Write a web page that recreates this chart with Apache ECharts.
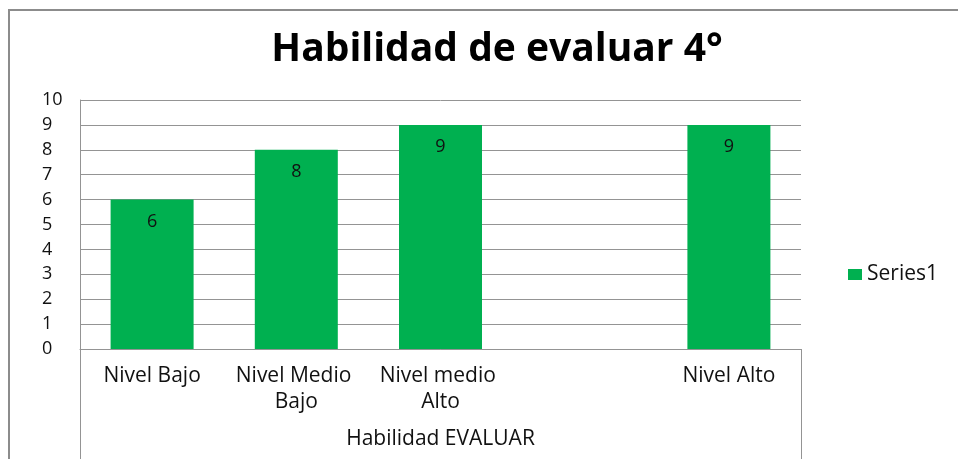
<!DOCTYPE html>
<html>
<head>
<meta charset="utf-8">
<script src="https://cdn.jsdelivr.net/npm/echarts@6/dist/echarts.min.js"></script>
<style>
  html, body { margin: 0; padding: 0; background: #fff; }
  #main { width: 958px; height: 459px; }
</style>
</head>
<body>
<div id="main"></div>
<script>
var categories = ['Nivel Bajo', 'Nivel Medio Bajo', 'Nivel medio Alto', '', 'Nivel Alto'];
var values = [6, 8, 9, '-', 9];
var groupName = ['Habilidad EVALUAR'];
var seriesName = 'Series1';

var chart = echarts.init(document.getElementById('main'));
var font = '"Open Sans", sans-serif';
var gray = '#949494';

var option = {
  animation: false,
  textStyle: { fontFamily: font },
  title: {
    text: 'Habilidad de evaluar 4°',
    left: 492,
    textAlign: 'center',
    top: 25,
    textStyle: { fontFamily: font, fontSize: 39, fontWeight: 'bold', color: '#000' }
  },
  legend: {
    data: [seriesName],
    left: 843,
    top: 259,
    icon: 'rect',
    itemWidth: 14,
    itemHeight: 11,
    itemGap: 8,
    textStyle: { fontFamily: font, fontSize: 21, color: '#111' }
  },
  graphic: [{
    type: 'rect',
    shape: { x: 9, y: 10, width: 1000, height: 500 },
    style: { fill: 'none', stroke: '#8c8c8c', lineWidth: 2 },
    silent: true
  }],
  grid: { left: 80, right: 157, top: 100, bottom: 110 },
  xAxis: [{
    type: 'category',
    data: categories,
    axisLine: { lineStyle: { color: gray } },
    axisTick: { show: false },
    axisLabel: {
      interval: 0,
      margin: 14,
      width: 140,
      overflow: 'break',
      lineHeight: 26,
      fontSize: 21,
      color: '#111',
      fontFamily: font
    }
  }, {
    type: 'category',
    data: groupName,
    position: 'bottom',
    axisLine: { show: false },
    axisTick: { show: true, length: 112, lineStyle: { color: gray } },
    axisLabel: { margin: 80, fontSize: 21, color: '#111', fontFamily: font }
  }],
  yAxis: {
    type: 'value',
    min: 0,
    max: 10,
    interval: 1,
    axisLine: { show: true, lineStyle: { color: gray } },
    axisTick: { show: false },
    splitLine: { lineStyle: { color: gray } },
    axisLabel: { align: 'left', margin: 38, fontSize: 18, color: '#111', fontFamily: font }
  },
  series: [{
    name: seriesName,
    type: 'bar',
    xAxisIndex: 0,
    data: values,
    barWidth: 83,
    itemStyle: { color: '#00b050' },
    label: {
      show: true,
      position: 'insideTop',
      distance: 13,
      fontSize: 18,
      color: '#111',
      fontFamily: font
    }
  }]
};

chart.setOption(option);
</script>
</body>
</html>
